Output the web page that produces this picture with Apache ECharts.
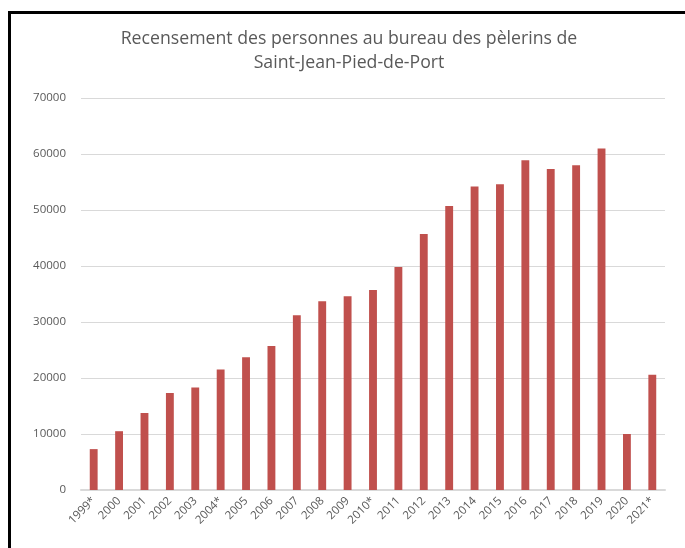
<!DOCTYPE html>
<html>
<head>
<meta charset="utf-8">
<script src="https://cdn.jsdelivr.net/npm/echarts@6/dist/echarts.min.js"></script>
<style>
  html, body { margin: 0; padding: 0; background: #fff; overflow: hidden; }
  #frame { position: absolute; left: 8px; top: 11px; width: 700px; height: 560px;
           border-left: 3px solid #000; border-top: 3px solid #000; }
  #main { position: absolute; left: 0; top: 0; width: 698px; height: 548px; }
</style>
</head>
<body>
<div id="frame"></div>
<div id="main"></div>
<script>
// années (* = estimation)
const years = ['1999*', '2000', '2001', '2002', '2003', '2004*', '2005', '2006', '2007', '2008',
  '2009', '2010*', '2011', '2012', '2013', '2014', '2015', '2016', '2017', '2018',
  '2019', '2020', '2021*'];
const pelerins = [7300, 10500, 13750, 17300, 18300, 21500, 23700, 25700, 31200, 33700,
  34600, 35700, 39800, 45700, 50700, 54200, 54600, 58900, 57300, 58000,
  61000, 10000, 20600];
const yTicks = [0, 10000, 20000, 30000, 40000, 50000, 60000, 70000];

const chart = echarts.init(document.getElementById('main'));
chart.setOption({
  animation: false,
  title: {
    text: 'Recensement des personnes au bureau des pèlerins de\nSaint-Jean-Pied-de-Port',
    left: 'center',
    top: 22,
    textStyle: { fontFamily: 'Open Sans', fontWeight: 'normal', fontSize: 17.7, color: '#595959', lineHeight: 24 }
  },
  grid: { left: 81, right: 33, top: 98, bottom: 58 },
  xAxis: {
    type: 'category',
    data: years,
    axisLine: { lineStyle: { color: '#d9d9d9', width: 2 } },
    axisTick: { show: false },
    axisLabel: { rotate: 45, color: '#595959', fontFamily: 'Open Sans', fontSize: 11.5, margin: 9, interval: 0 }
  },
  yAxis: {
    type: 'value',
    min: yTicks[0],
    max: yTicks[yTicks.length - 1],
    interval: 10000,
    axisLine: { show: false },
    axisTick: { show: false },
    axisLabel: { color: '#595959', fontFamily: 'Open Sans', fontSize: 11.5, margin: 15,
      formatter: v => String(v) },
    splitLine: { lineStyle: { color: '#d9d9d9', width: 1 } }
  },
  series: [{
    type: 'bar',
    data: pelerins,
    barWidth: '31%',
    itemStyle: { color: '#c0504d' }
  }]
});
</script>
</body>
</html>
